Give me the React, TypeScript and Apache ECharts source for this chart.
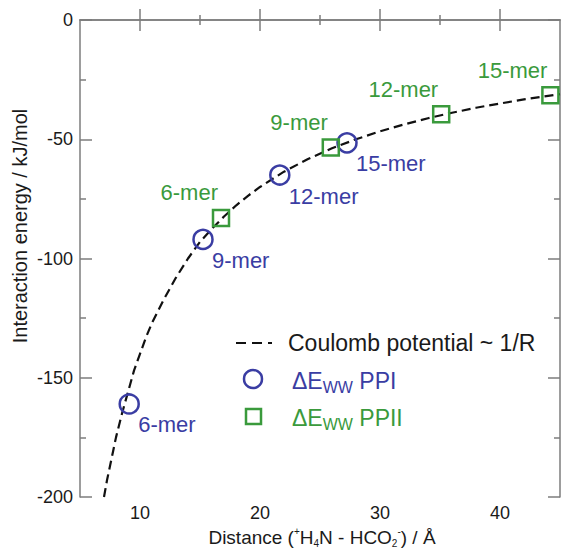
import React, { useEffect, useRef } from 'react';
import * as echarts from 'echarts';

// Data
const ppiDistance = [9.1, 15.25, 21.65, 27.25];
const ppiEnergy = [-161, -92, -65, -51.5];
const ppiLabels = ['6-mer', '9-mer', '12-mer', '15-mer'];

const ppiiDistance = [16.75, 25.9, 35.1, 44.2];
const ppiiEnergy = [-83, -53.5, -39.5, -31.5];
const ppiiLabels = ['6-mer', '9-mer', '12-mer', '15-mer'];

const coulombDistance = [7, 7.25, 7.5, 7.75, 8, 8.5, 9, 9.5, 10, 10.5, 11, 11.5, 12, 13, 14, 15, 16, 17, 18, 19, 20, 22, 24, 26, 28, 30, 32, 34, 36, 38, 40, 42, 45];
const coulombEnergy = [-200, -193, -187, -181, -175, -165, -156, -147, -140, -133, -127, -122, -117, -108, -100, -93, -87.5, -82.4, -77.8, -73.7, -70, -63.6, -58.3, -53.8, -50, -46.7, -43.8, -41.2, -38.9, -36.8, -35, -33.3, -31.1];

const xMajorTicks = [10, 20, 30, 40];
const xMinorTicks = [15, 25, 35];

const BLUE = '#3a3da3';
const GREEN = '#3a9a3c';
const AXIS = '#7d7d7d';
const FONT = '"Liberation Sans", Arial, Helvetica, sans-serif';

export default function App() {
  const ref = useRef<HTMLDivElement>(null);
  useEffect(() => {
    if (!ref.current) return;
    const chart = echarts.init(ref.current, undefined, { renderer: 'svg' });

    const axisLineStyle = { color: AXIS, width: 1.5 };
    const xBase = { type: 'value', min: 5, max: 45, interval: 5, splitLine: { show: false } };
    const yBase = { type: 'value', min: -200, max: 0, interval: 50, splitLine: { show: false } };

    const option: any = {
      animation: false,
      backgroundColor: '#ffffff',
      grid: { left: 80, right: 4, top: 20, bottom: 51, containLabel: false },
      xAxis: [
        {
          ...xBase,
          position: 'bottom',
          axisLine: { show: true, lineStyle: axisLineStyle },
          axisTick: { show: true, inside: true, length: 11, customValues: xMajorTicks, lineStyle: { color: AXIS, width: 1.5 } },
          axisLabel: { show: true, customValues: xMajorTicks, fontSize: 18, fontFamily: FONT, color: '#1a1a1a', margin: 7 },
        },
        {
          ...xBase,
          position: 'bottom',
          axisLine: { show: false },
          axisTick: { show: true, inside: true, length: 5, customValues: xMinorTicks, lineStyle: { color: AXIS, width: 1.5 } },
          axisLabel: { show: false },
        },
        {
          ...xBase,
          position: 'top',
          axisLine: { show: true, lineStyle: axisLineStyle },
          axisTick: { show: true, inside: true, length: 11, customValues: xMajorTicks, lineStyle: { color: AXIS, width: 1.5 } },
          axisLabel: { show: false },
        },
        {
          ...xBase,
          position: 'top',
          axisLine: { show: false },
          axisTick: { show: true, inside: true, length: 5, customValues: xMinorTicks, lineStyle: { color: AXIS, width: 1.5 } },
          axisLabel: { show: false },
        },
      ],
      yAxis: [
        {
          ...yBase,
          position: 'left',
          axisLine: { show: true, lineStyle: axisLineStyle },
          axisTick: { show: true, inside: true, length: 12, lineStyle: { color: AXIS, width: 1.5 } },
          minorTick: { show: true, splitNumber: 2, length: 6, lineStyle: { color: AXIS, width: 1.5 } },
          axisLabel: { show: true, fontSize: 18, fontFamily: FONT, color: '#1a1a1a', margin: 7 },
        },
        {
          ...yBase,
          position: 'right',
          axisLine: { show: true, lineStyle: axisLineStyle },
          axisTick: { show: true, inside: true, length: 12, lineStyle: { color: AXIS, width: 1.5 } },
          minorTick: { show: true, splitNumber: 2, length: 6, lineStyle: { color: AXIS, width: 1.5 } },
          axisLabel: { show: false },
        },
      ],
      series: [
        {
          name: 'Coulomb potential ~ 1/R',
          type: 'line',
          xAxisIndex: 0,
          yAxisIndex: 0,
          data: coulombDistance.map((d, i) => [d, coulombEnergy[i]]),
          showSymbol: false,
          symbol: 'none',
          smooth: false,
          lineStyle: { color: '#111', width: 2.2, type: [9, 5] },
          z: 2,
        },
        {
          name: 'PPI',
          type: 'scatter',
          xAxisIndex: 0,
          yAxisIndex: 0,
          symbol: 'circle',
          symbolSize: 19,
          itemStyle: { color: 'rgba(0,0,0,0)', borderColor: BLUE, borderWidth: 2.5, opacity: 1 },
          label: {
            show: true,
            position: 'inside',
            formatter: '{b}',
            align: 'left',
            verticalAlign: 'middle',
            offset: [9, 21],
            fontSize: 22,
            fontFamily: FONT,
            color: BLUE,
            opacity: 1,
            textBorderWidth: 0,
          },
          data: ppiDistance.map((d, i) => ({ value: [d, ppiEnergy[i]], name: ppiLabels[i] })),
          z: 3,
        },
        {
          name: 'PPII',
          type: 'scatter',
          xAxisIndex: 0,
          yAxisIndex: 0,
          symbol: 'rect',
          symbolSize: 16,
          itemStyle: { color: 'rgba(0,0,0,0)', borderColor: GREEN, borderWidth: 2.5, opacity: 1 },
          label: {
            show: true,
            position: 'inside',
            formatter: '{b}',
            align: 'right',
            verticalAlign: 'middle',
            offset: [-3, -25],
            fontSize: 22,
            fontFamily: FONT,
            color: GREEN,
            opacity: 1,
            textBorderWidth: 0,
          },
          data: ppiiDistance.map((d, i) => ({ value: [d, ppiiEnergy[i]], name: ppiiLabels[i] })),
          z: 3,
        },
      ],
      graphic: [
        {
          type: 'text',
          x: 20,
          y: 226,
          rotation: Math.PI / 2,
          style: {
            text: 'Interaction energy / kJ/mol',
            font: `20px ${FONT}`,
            fill: '#1a1a1a',
            align: 'center',
            verticalAlign: 'middle',
          },
        },
        {
          type: 'text',
          x: 322,
          y: 537,
          style: {
            text: '{t|Distance (}{p|+}{t|H}{b|4}{t|N - HCO}{b|2}{p|-}{t|) / Å}',
            align: 'center',
            verticalAlign: 'middle',
            fill: '#1a1a1a',
            rich: {
              t: { fontSize: 19, fontFamily: FONT, lineHeight: 22, fill: '#1a1a1a' },
              p: { fontSize: 10, fontFamily: FONT, lineHeight: 12, verticalAlign: 'top', fill: '#1a1a1a' },
              b: { fontSize: 10, fontFamily: FONT, lineHeight: 12, verticalAlign: 'bottom', fill: '#1a1a1a' },
            },
          },
        },
        // legend
        {
          type: 'line',
          shape: { x1: 236, y1: 343, x2: 272, y2: 343 },
          style: { stroke: '#111', lineWidth: 2.2, lineDash: [10, 6] },
        },
        {
          type: 'text',
          x: 288,
          y: 343,
          style: {
            text: 'Coulomb potential ~ 1/R',
            font: `23px ${FONT}`,
            fill: '#1a1a1a',
            verticalAlign: 'middle',
          },
        },
        {
          type: 'circle',
          shape: { cx: 253, cy: 379, r: 9 },
          style: { fill: 'none', stroke: BLUE, lineWidth: 2.5 },
        },
        {
          type: 'text',
          x: 292,
          y: 381,
          style: {
            text: '{a|ΔE}{s|WW}{a| PPI}',
            verticalAlign: 'middle',
            rich: {
              a: { fontSize: 23, fontFamily: FONT, lineHeight: 28, fill: BLUE, verticalAlign: 'middle' },
              s: { fontSize: 16, fontFamily: FONT, lineHeight: 14, fill: BLUE, verticalAlign: 'bottom' },
            },
          },
        },
        {
          type: 'rect',
          shape: { x: 246, y: 409, width: 15, height: 15 },
          style: { fill: 'none', stroke: GREEN, lineWidth: 2.5 },
        },
        {
          type: 'text',
          x: 292,
          y: 418,
          style: {
            text: '{a|ΔE}{s|WW}{a| PPII}',
            verticalAlign: 'middle',
            rich: {
              a: { fontSize: 23, fontFamily: FONT, lineHeight: 28, fill: GREEN, verticalAlign: 'middle' },
              s: { fontSize: 16, fontFamily: FONT, lineHeight: 14, fill: GREEN, verticalAlign: 'bottom' },
            },
          },
        },
      ],
    };

    chart.setOption(option);
    return () => chart.dispose();
  }, []);

  return (
    <div
      ref={ref}
      style={{ position: 'fixed', left: 0, top: 0, width: 564, height: 548, background: '#fff' }}
    />
  );
}
